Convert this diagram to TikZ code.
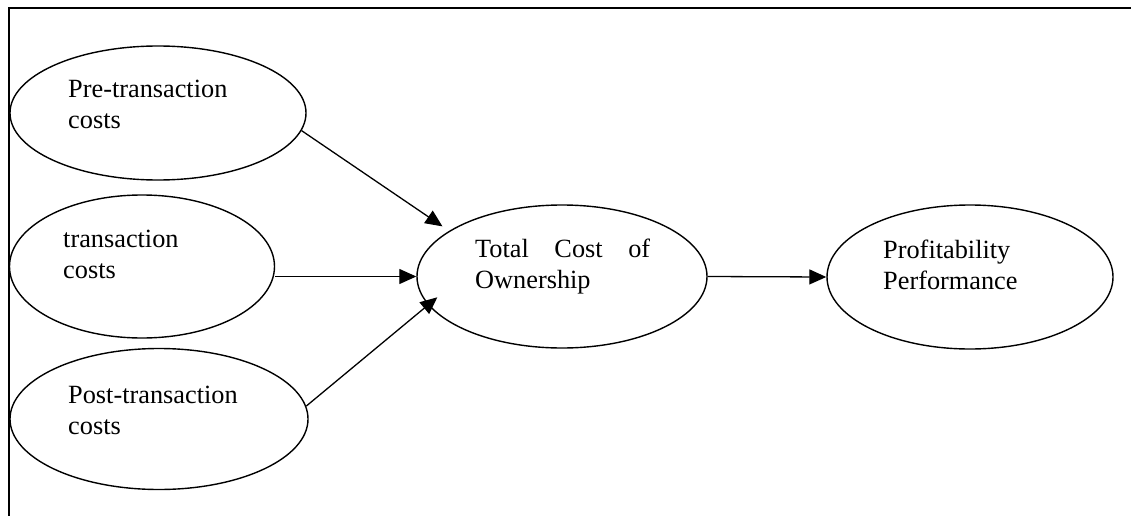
\documentclass[tikz,border=0pt]{standalone}
\usepackage{fontspec}
\setmainfont{Liberation Serif}
\usetikzlibrary{shapes.geometric,arrows.meta}
\newcommand\twoln[2]{\vtop{\baselineskip=31pt\hbox{#1}\hbox{#2}}}
\tikzset{
  oval/.style={ellipse, draw, line width=1.4pt, inner sep=0pt},
  lbl/.style={anchor=base west, inner sep=0pt, font=\fontsize{26.3}{31}\selectfont},
  conn/.style={line width=1.3pt, -{Triangle[length=17pt,width=15pt]}},
  frame/.style={line width=1.4pt}
}
\begin{document}
\begin{tikzpicture}[x=1pt,y=-1pt]
\useasboundingbox (0,0) rectangle (1131,516);
% frame
\coordinate (fTL) at (9,8);
\coordinate (fTR) at (1131,8);
\coordinate (fBL) at (9,516);
\draw[frame] (fTR) -- (fTL) -- (fBL);
% ellipses
\node[oval, minimum width=296pt, minimum height=134pt] (pre) at (158,113) {};
\node[oval, minimum width=265pt, minimum height=143pt] (tr) at (142,266.5) {};
\node[oval, minimum width=298pt, minimum height=141pt] (post) at (159,419) {};
\node[oval, minimum width=290pt, minimum height=143pt] (tc) at (562,276.5) {};
\node[oval, minimum width=286pt, minimum height=144pt] (pp) at (970,277) {};
% texts
\node[lbl] (preT) at (68,98) {\twoln{Pre-transaction}{costs}};
\node[lbl] (trT) at (63,247) {\twoln{transaction}{costs}};
\node[lbl] (postT) at (68,403) {\twoln{Post-transaction}{costs}};
\node[lbl] (tcT) at (475,257) {\twoln{\hbox to 175pt{Total\hfill Cost\hfill of}}{Ownership}};
\node[lbl] (ppT) at (883,258) {\twoln{Profitability}{Performance}};
% connectors
\draw[conn, shorten >=8pt] (pre.-7) -- (tc.158);
\draw[conn] (tr.east |- tc.west) -- (tc.west);
\draw[conn, shorten >=-12pt] (post.5) -- (tc.-168);
\draw[conn] (tc.east) -- (pp.west);
\end{tikzpicture}
\end{document}
